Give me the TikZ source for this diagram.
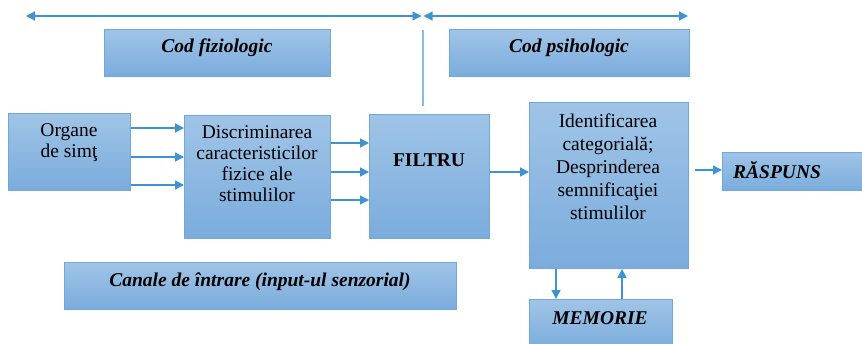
\documentclass[tikz,border=0pt]{standalone}
\usepackage{fontspec}
\setmainfont{Liberation Serif}
\usetikzlibrary{arrows.meta}
\definecolor{boxtop}{RGB}{160,196,231}
\definecolor{boxbot}{RGB}{122,172,220}
\definecolor{boxedge}{RGB}{112,168,222}
\definecolor{arrowblue}{RGB}{62,148,210}
\definecolor{rulerblue}{RGB}{140,186,230}
\tikzset{
  box/.style={draw=boxedge, line width=0.9pt, top color=boxtop, bottom color=boxbot,
    anchor=north west, inner sep=0pt},
  txt/.style={align=center, font=\fontsize{19.5}{21}\selectfont, inner sep=0pt},
  bi/.style={txt, font=\fontsize{19.5}{21}\selectfont\bfseries\itshape},
  arr/.style={draw=arrowblue, line width=1.3pt, -{Triangle[length=9pt,width=9pt]}},
  darr/.style={draw=arrowblue, line width=1.3pt, {Triangle[length=9pt,width=9pt]}-{Triangle[length=9pt,width=9pt]}},
  thin/.style={draw=rulerblue, line width=1.1pt}
}
\newcommand{\boxat}[5]{\node[box, minimum width=#4pt, minimum height=#5pt] (#1) at (#2,#3) {};}
\begin{document}
\begin{tikzpicture}[x=1pt,y=-1pt]
\useasboundingbox (0,0) rectangle (862,343);
% boxes
\boxat{fiz}{104}{29}{226}{47}
\boxat{psi}{449}{29}{240}{47}
\boxat{organe}{8}{113}{122}{77}
\boxat{discrim}{184}{115}{146}{123}
\boxat{filtru}{369}{114}{120}{124}
\boxat{ident}{529}{102}{159}{166}
\boxat{raspuns}{722}{152}{145}{38}
\boxat{canale}{64}{262}{392}{47}
\boxat{memorie}{529}{299}{143}{50}
% texts
\node[bi] at (217,48) {Cod fiziologic};
\node[bi] at (569,48) {Cod psihologic};
\node[txt] at (69,143) {Organe\\de simţ};
\node[txt] at (257,164) {Discriminarea\\caracteristicilor\\fizice ale\\stimulilor};
\node[txt, font=\fontsize{19.5}{21}\selectfont\bfseries] at (429,160) {FILTRU};
\node[txt, font=\fontsize{19.5}{23}\selectfont] at (608,167) {Identificarea\\categorială;\\Desprinderea\\semnificaţiei\\stimulilor};
\node[bi, anchor=west] at (733,170) {RĂSPUNS};
\node[bi] at (260,282) {Canale de întrare (input-ul senzorial)};
\node[bi] at (600,318) {MEMORIE};
% top range arrows
\coordinate (l1) at (26,16);
\coordinate (r1) at (421.5,16);
\coordinate (l2) at (423.5,16);
\coordinate (r2) at (688,16);
\draw[darr] (l1) -- (r1);
\draw[darr] (l2) -- (r2);
\coordinate (vtop) at (423,30);
\coordinate (vbot) at (423,106);
\draw[thin] (vtop) -- (vbot);
% flow arrows
\foreach \yy in {128,157,185}
  \draw[arr] (organe.east |- 0,\yy) -- (discrim.west |- 0,\yy);
\foreach \yy in {143,172,200}
  \draw[arr] (discrim.east |- 0,\yy) -- (filtru.west |- 0,\yy);
\draw[arr] (filtru.east |- 0,172) -- (ident.west |- 0,172);
\coordinate (rstart) at (695,170);
\draw[arr] (rstart) -- (raspuns.west |- rstart);
\draw[arr] (ident.south -| 556,0) -- (memorie.north -| 556,0);
\draw[arr] (memorie.north -| 622,0) -- (ident.south -| 622,0);
\end{tikzpicture}
\end{document}
